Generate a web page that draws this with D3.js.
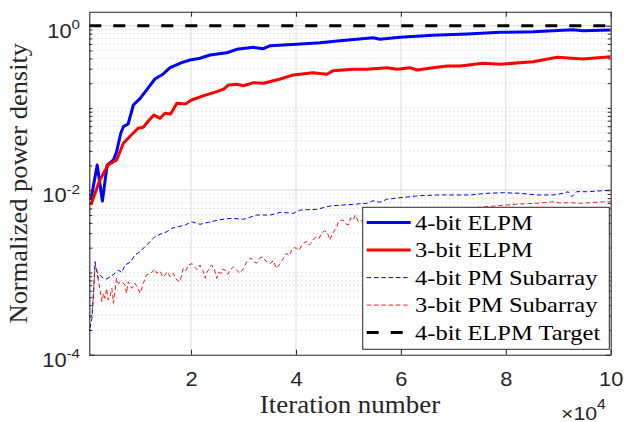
<!DOCTYPE html>
<html><head><meta charset="utf-8">
<script src="https://cdn.jsdelivr.net/npm/d3@7"></script>
<style>
html,body{margin:0;padding:0;background:#fff;}
svg{display:block;}
</style></head><body>
<svg id="chart" width="625" height="422"></svg>
<script>
// ---------------- data ----------------
const xTicks = [20000, 40000, 60000, 80000, 100000];
const xTickLabels = ["2", "4", "6", "8", "10"];
const yTicks = [1e-4, 1e-2, 1];
const yTickExp = ["-4", "-2", "0"];
const xDomain = [600, 100000];
const yDomain = [1e-4, 1.48];
const seriesNames = ["4-bit ELPM", "3-bit ELPM", "4-bit PM Subarray", "3-bit PM Subarray", "4-bit ELPM Target"];

const elpm4 = [[900,0.0076],[2100,0.0202],[3100,0.0074],[4000,0.0202],[5200,0.0233],[5800,0.0294],[6600,0.0492],[7100,0.0592],[8000,0.0638],[9000,0.1086],[10300,0.131],[11500,0.165],[13100,0.225],[14700,0.259],[16000,0.309],[18200,0.355],[19800,0.383],[21700,0.402],[23600,0.440],[26800,0.469],[28700,0.516],[31900,0.546],[33800,0.525],[35100,0.571],[40100,0.594],[44600,0.621],[48400,0.657],[54700,0.715],[56000,0.684],[59800,0.723],[66100,0.764],[72600,0.793],[78900,0.831],[85200,0.845],[92800,0.894],[94700,0.869],[100000,0.887]];

const elpm3 = [[900,0.0066],[2600,0.0133],[4200,0.0202],[5800,0.0233],[7100,0.0372],[8400,0.0456],[9900,0.0566],[10900,0.0582],[11900,0.070],[12900,0.082],[14100,0.0748],[15000,0.0861],[16100,0.0844],[17300,0.114],[18900,0.1117],[20100,0.125],[22300,0.140],[24900,0.158],[26200,0.169],[27100,0.190],[28700,0.194],[30000,0.186],[31900,0.203],[33800,0.1995],[37000,0.225],[39500,0.252],[43200,0.268],[45900,0.2566],[47100,0.284],[50900,0.295],[53500,0.295],[57400,0.309],[59300,0.295],[61700,0.309],[63100,0.289],[66100,0.309],[68800,0.324],[71300,0.324],[75600,0.349],[78900,0.340],[85200,0.365],[89800,0.413],[94700,0.394],[100000,0.420]];

const pm4 = [[700,0.000209],[1100,0.000277],[1400,0.000532],[1700,0.00135],[2000,0.00102],[2300,0.000849],[2600,0.000931],[3300,0.000849],[3900,0.000832],[4600,0.000887],[5500,0.000977],[6100,0.00107],[6800,0.00100],[7400,0.00123],[8400,0.00133],[9300,0.00163],[10300,0.00179],[11200,0.00206],[12200,0.00237],[13100,0.00272],[14100,0.00291],[15400,0.00313],[16300,0.00344],[17600,0.00360],[18900,0.00378],[20100,0.00414],[21700,0.00385],[23300,0.00407],[25200,0.00434],[26500,0.00447],[27800,0.00455],[30000,0.00443],[32500,0.00499],[35100,0.00499],[37000,0.00538],[39500,0.00524],[40800,0.00574],[44000,0.00586],[46500,0.00643],[49000,0.00661],[51600,0.00679],[53500,0.00693],[54700,0.00745],[56000,0.00713],[57300,0.00775],[60500,0.00820],[63600,0.00857],[66800,0.00875],[70000,0.00875],[73200,0.00875],[76400,0.00917],[79500,0.00933],[82700,0.00917],[85900,0.00875],[89000,0.00875],[91000,0.00917],[91900,0.00959],[92600,0.00834],[93500,0.00959],[95400,0.00959],[98600,0.00986],[100000,0.01005]];

const pm3 = [[700,2.77e-4],[1100,3.04e-4],[1400,5.83e-4],[1700,1.23e-3],[2000,1.12e-3],[2300,8.49e-4],[2600,6.41e-4],[3000,4.41e-4],[3300,5.58e-4],[3600,4.85e-4],[3900,6.41e-4],[4200,4.62e-4],[4600,5.32e-4],[4900,6.41e-4],[5200,4.22e-4],[5500,5.83e-4],[5800,8.49e-4],[6100,7.38e-4],[6800,7.72e-4],[7400,7.03e-4],[7700,5.58e-4],[8000,7.72e-4],[8700,6.41e-4],[9300,7.38e-4],[9900,6.41e-4],[10300,5.58e-4],[10900,7.38e-4],[11500,9.31e-4],[12500,1.00e-3],[13000,1.10e-3],[13500,9.77e-4],[14100,1.04e-3],[14600,8.8e-4],[15000,9.31e-4],[15500,1.02e-3],[16000,8.87e-4],[16600,9.77e-4],[17300,8.09e-4],[17900,7.72e-4],[18500,1.12e-3],[19000,1.05e-3],[19500,1.23e-3],[20200,1.28e-3],[20800,1.14e-3],[21200,1.08e-3],[21700,1.23e-3],[22300,1.04e-3],[22700,8.49e-4],[23000,1.00e-3],[23900,1.23e-3],[24400,1.12e-3],[24900,8.49e-4],[25300,1.00e-3],[25800,9.77e-4],[26000,1.10e-3],[26500,1.07e-3],[27000,9.5e-4],[27400,1.07e-3],[28100,1.17e-3],[28700,1.07e-3],[29300,9.8e-4],[30000,1.12e-3],[30500,1.3e-3],[30900,1.42e-3],[31400,1.5e-3],[31900,1.35e-3],[32500,1.3e-3],[33100,1.49e-3],[33600,1.55e-3],[34100,1.42e-3],[34600,1.3e-3],[35100,1.29e-3],[35700,1.39e-3],[36300,1.12e-3],[37000,1.29e-3],[37600,1.49e-3],[38200,1.71e-3],[38700,1.6e-3],[39200,1.87e-3],[39700,2.0e-3],[40100,1.97e-3],[40600,1.85e-3],[41100,2.16e-3],[41500,2.3e-3],[42000,2.37e-3],[42500,2.15e-3],[43000,2.30e-3],[43500,2.6e-3],[44000,2.72e-3],[44400,2.6e-3],[44900,2.99e-3],[45400,3.2e-3],[45900,3.13e-3],[46500,2.48e-3],[46800,2.85e-3],[47400,3.28e-3],[47800,3.6e-3],[48100,4.14e-3],[48500,4.3e-3],[49000,4.34e-3],[49500,3.9e-3],[50000,3.78e-3],[50400,4.6e-3],[50900,4.34e-3],[51300,4.99e-3],[51900,4.14e-3],[56000,4.86e-3],[61700,5.43e-3],[67500,5.74e-3],[73200,6.08e-3],[77900,6.43e-3],[80200,6.61e-3],[82700,6.79e-3],[86500,6.99e-3],[89000,7.24e-3],[90300,6.99e-3],[92200,7.05e-3],[94100,6.93e-3],[96000,7.05e-3],[97900,7.19e-3],[100000,7.24e-3]];

const target = [[600,1],[100000,1]];

// ---------------- layout ----------------
const plotL = 89.3, plotR = 610.7, plotT = 11.7, plotB = 354.7;
const AX = "#262626";
const SANS = "'Liberation Sans', Arial, sans-serif";
const SERIF = "'Liberation Serif', 'Times New Roman', serif";

const svg = d3.select("#chart");
const x = d3.scaleLinear().domain(xDomain).range([plotL, plotR]);
const y = d3.scaleLog().domain(yDomain).range([plotB, plotT]);

const minorY = [];
for (let e = -4; e <= 0; e++) for (let k = 1; k <= 9; k++) {
  const v = k * Math.pow(10, e);
  if (v > yDomain[1] || v < yDomain[0]) continue;
  if (yTicks.some(t => Math.abs(t - v) / t < 1e-9)) continue;
  minorY.push(v);
}

// grid
const grid = svg.append("g");
grid.selectAll("line.mg").data(minorY).join("line")
  .attr("x1", plotL).attr("x2", plotR).attr("y1", d => y(d)).attr("y2", d => y(d))
  .attr("stroke", "#c4c4c4").attr("stroke-width", 0.9).attr("stroke-dasharray", "1,3");
grid.selectAll("line.vg").data(xTicks.slice(0, -1)).join("line")
  .attr("x1", d => x(d)).attr("x2", d => x(d)).attr("y1", plotT).attr("y2", plotB)
  .attr("stroke", "#e2e2e2").attr("stroke-width", 1.2);
grid.selectAll("line.hg").data(yTicks.slice(1)).join("line")
  .attr("x1", plotL).attr("x2", plotR).attr("y1", d => y(d)).attr("y2", d => y(d))
  .attr("stroke", "#e2e2e2").attr("stroke-width", 1.2);

svg.append("clipPath").attr("id", "clip").append("rect")
  .attr("x", plotL).attr("y", plotT).attr("width", plotR - plotL).attr("height", plotB - plotT);

const line = d3.line().x(d => x(d[0])).y(d => y(d[1]));
const styles = [
  {data: elpm4, color: "#0000ff", w: 3, dash: null},
  {data: elpm3, color: "#ff0000", w: 3, dash: null},
  {data: pm4, color: "#0000ff", w: 1, dash: "4.5,2.8"},
  {data: pm3, color: "#ff0000", w: 0.9, dash: "4.5,2.8"},
  {data: target, color: "#000000", w: 3, dash: "12,12"}
];
const lines = svg.append("g").attr("clip-path", "url(#clip)");
styles.forEach(s => {
  lines.append("path").attr("d", line(s.data)).attr("fill", "none")
    .attr("stroke", s.color).attr("stroke-width", s.w)
    .attr("stroke-linejoin", "round")
    .attr("stroke-dasharray", s.dash);
});

// axes
const gB = svg.append("g").attr("transform", `translate(0,${plotB})`)
  .call(d3.axisBottom(x).tickValues(xTicks).tickSizeInner(-5).tickSizeOuter(0).tickPadding(17.8)
    .tickFormat((d, i) => xTickLabels[i]));
const gT = svg.append("g").attr("transform", `translate(0,${plotT})`)
  .call(d3.axisTop(x).tickValues(xTicks).tickSizeInner(-5).tickSizeOuter(0).tickFormat(""));
const gL = svg.append("g").attr("transform", `translate(${plotL},0)`)
  .call(d3.axisLeft(y).tickValues(yTicks).tickSizeInner(-5).tickSizeOuter(0).tickFormat(""));
const gLm = svg.append("g").attr("transform", `translate(${plotL},0)`)
  .call(d3.axisLeft(y).tickValues(minorY).tickSizeInner(-3).tickSizeOuter(0).tickFormat(""));
const gR = svg.append("g").attr("transform", `translate(${plotR},0)`)
  .call(d3.axisRight(y).tickValues(yTicks).tickSizeInner(-5).tickSizeOuter(0).tickFormat(""));
const gRm = svg.append("g").attr("transform", `translate(${plotR},0)`)
  .call(d3.axisRight(y).tickValues(minorY).tickSizeInner(-3).tickSizeOuter(0).tickFormat(""));
[gB, gT, gL, gLm, gR, gRm].forEach(g => {
  g.selectAll("path.domain").attr("stroke", AX).attr("stroke-width", 1.1);
  g.selectAll(".tick line").attr("stroke", AX).attr("stroke-width", 1);
});
gLm.select("path.domain").remove();
gRm.select("path.domain").remove();
gB.selectAll("text").attr("fill", AX).attr("font-family", SANS).attr("font-size", 19.5)
  .attr("transform", "scale(1.12,1)");
gB.attr("font-family", null).attr("font-size", null);

// y tick labels (10^n)
yTicks.forEach((v, i) => {
  const t = svg.append("text")
    .attr("transform", `translate(80,${y(v) + 12.2}) scale(1.12,1)`)
    .attr("text-anchor", "end").attr("fill", AX).attr("font-family", SANS).attr("font-size", 19.5);
  t.append("tspan").text("10");
  t.append("tspan").attr("dy", -8.8).attr("font-size", 13.5).text(yTickExp[i]);
});

// x10^4 multiplier
const mult = svg.append("text").attr("transform", "translate(561,419.5) scale(1.12,1)")
  .attr("fill", AX).attr("font-family", SANS).attr("font-size", 19);
mult.append("tspan").text("\u00d710");
mult.append("tspan").attr("dy", -10.5).attr("font-size", 14).text("4");

// axis labels
svg.append("text").attr("transform", `translate(${(plotL + plotR) / 2},413.3) scale(1.1,1)`)
  .attr("text-anchor", "middle").attr("font-family", SERIF).attr("font-size", 24.5).attr("fill", AX)
  .text("Iteration number");
svg.append("text").attr("transform", `translate(26.7,${(plotT + plotB) / 2}) rotate(-90) scale(1.08,1)`)
  .attr("text-anchor", "middle").attr("font-family", SERIF).attr("font-size", 24.5).attr("fill", AX)
  .text("Normalized power density");

// legend
const lg = svg.append("g");
lg.append("rect").attr("x", 362.7).attr("y", 207.3).attr("width", 246.6).attr("height", 142)
  .attr("fill", "#fff").attr("stroke", AX).attr("stroke-width", 1);
seriesNames.forEach((name, i) => {
  const yy = 222.6 + i * 27.5;
  const s = styles[i];
  lg.append("line").attr("x1", 366.7).attr("x2", 410.7).attr("y1", yy).attr("y2", yy)
    .attr("stroke", s.color).attr("stroke-width", s.w).attr("stroke-dasharray", s.dash);
  lg.append("text").attr("transform", `translate(415,${yy + 7.2}) scale(1.14,1)`)
    .attr("font-family", SERIF).attr("font-size", 21.5).attr("fill", "#000").text(name);
});
</script>
</body></html>
